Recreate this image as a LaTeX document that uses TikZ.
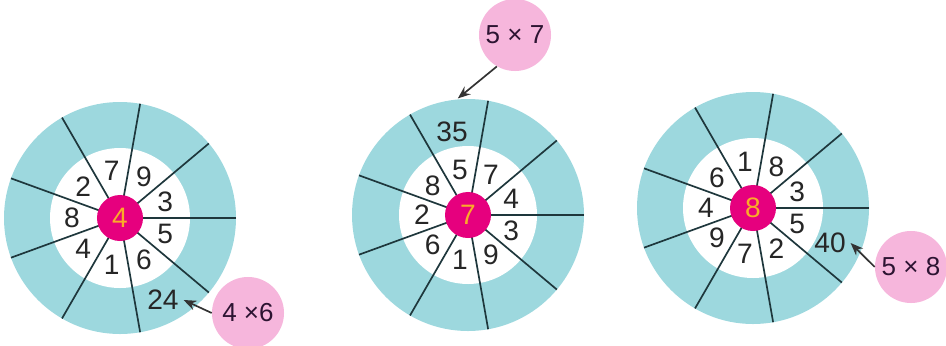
\documentclass[tikz,border=0pt]{standalone}
\usepackage{fontspec}
\setmainfont{Liberation Sans}
\usetikzlibrary{shapes,arrows,arrows.meta,positioning}
\definecolor{anillo}{RGB}{157, 216, 222}
\definecolor{centro}{RGB}{230, 0, 126}
\definecolor{cifra}{RGB}{250, 172, 40}
\definecolor{rosa}{RGB}{246, 182, 220}
\definecolor{radio}{RGB}{30, 55, 60}
\definecolor{tinta}{RGB}{45, 20, 50}

\begin{document}
\begin{tikzpicture}[x=0.025cm, y=0.025cm,
            every node/.style={font=\fontsize{20}{23}\selectfont, text=black!85},
            eje/.style={circle, fill=centro, minimum size=1.15cm, inner sep=0pt, text=cifra},
            nube/.style={circle, fill=rosa, minimum size=1.8cm, inner sep=0pt, text=tinta,
                         font=\fontsize{18.5}{22}\selectfont},
            rayo/.style={radio, very thick},
            flecha/.style={-{Stealth[length=9pt, width=7pt]}, very thick, black!80}]

            \useasboundingbox (0,0) rectangle (946,345);

            % Rueda del 4
            \fill[anillo] (120,127) circle (116);
            \fill[white] (120,127) circle (70);
            \foreach \a in {0,40,...,320} \draw[rayo] (120,127) -- ++(\a:116);
            \node[eje] (c4) at (120,127) {4};
            \foreach \n [count=\i] in {3,9,7,2,8,4,1,6,5}
                \node (c4-\i) at ([shift={({20+40*(\i-1)}:48)}]c4) {\n};
            \node (n24) at (163,45) {24};

            % Rueda del 7
            \fill[anillo] (468,130) circle (116);
            \fill[white] (468,130) circle (69);
            \foreach \a in {0,40,...,320} \draw[rayo] (468,130) -- ++(\a:116);
            \node[eje] (c7) at (468,130) {7};
            \foreach \n [count=\i] in {4,7,5,8,2,6,1,9,3}
                \node (c7-\i) at ([shift={({20+40*(\i-1)}:46)}]c7) {\n};
            \node (n35) at (452,213) {35};

            % Rueda del 8
            \fill[anillo] (753,137) circle (116);
            \fill[white] (753,137) circle (70);
            \foreach \a in {0,40,...,320} \draw[rayo] (753,137) -- ++(\a:116);
            \node[eje] (c8) at (753,137) {8};
            \foreach \n [count=\i] in {3,8,1,6,4,9,7,2,5}
                \node (c8-\i) at ([shift={({20+40*(\i-1)}:47)}]c8) {\n};
            \node (n40) at (830,102) {40};

            % Nodos de productos
            \node[nube] (p46) at (248,32) {4 ×6};
            \node[nube] (p57) at (515,310) {5 × 7};
            \node[nube] (p58) at (911,78) {5 × 8};

            % Flechas
            \coordinate (borde7) at ([shift={(95:117)}]c7);
            \draw[flecha] (p46.west) -- (n24.east);
            \draw[flecha] (p57.240) -- (borde7);
            \draw[flecha] (p58.west) -- (n40.east);

        \end{tikzpicture}
\end{document}
